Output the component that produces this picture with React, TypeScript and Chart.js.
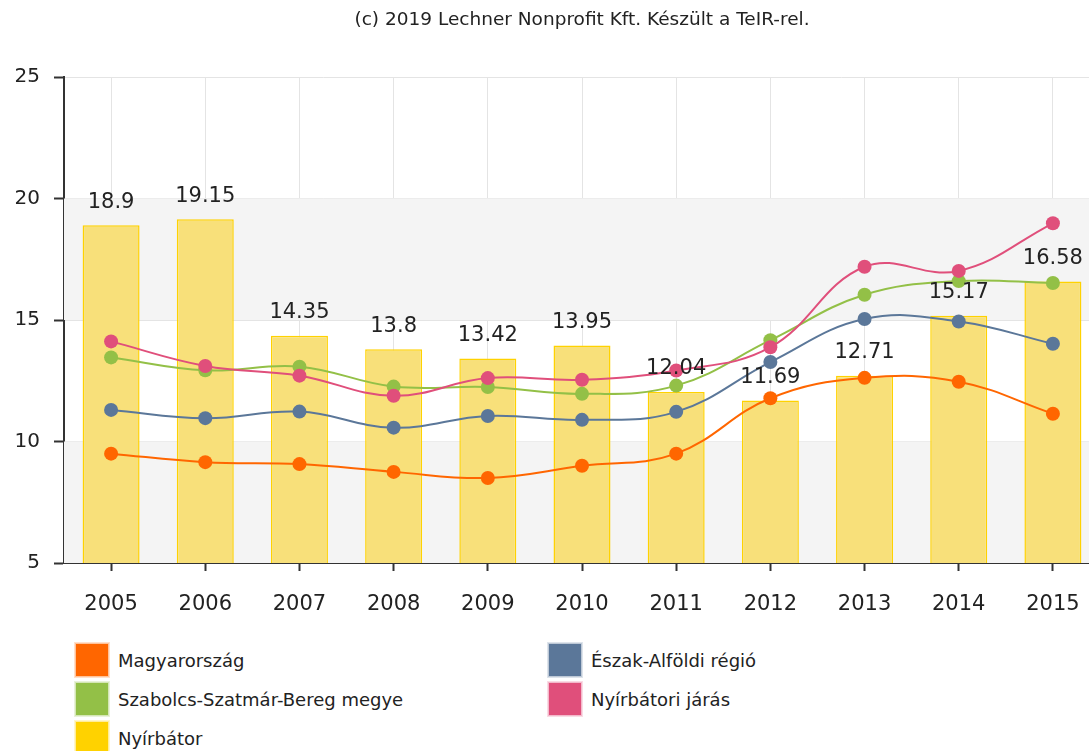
import React, { useEffect, useRef } from "react";
import { Chart, registerables } from "chart.js";

Chart.register(...registerables);

const years = ["2005", "2006", "2007", "2008", "2009", "2010", "2011", "2012", "2013", "2014", "2015"];
const magyarorszag = [9.5, 9.15, 9.07, 8.75, 8.5, 9.0, 9.5, 11.78, 12.62, 12.46, 11.14];
const eszakAlfoldi = [11.3, 10.96, 11.23, 10.57, 11.05, 10.89, 11.22, 13.27, 15.04, 14.94, 14.02];
const szabolcs = [13.46, 12.93, 13.08, 12.26, 12.24, 11.96, 12.3, 14.17, 16.04, 16.6, 16.52];
const nyirbatoriJaras = [14.12, 13.11, 12.71, 11.88, 12.61, 12.54, 12.92, 13.88, 17.19, 17.02, 18.98];
const nyirbator = [18.9, 19.15, 14.35, 13.8, 13.42, 13.95, 12.04, 11.69, 12.71, 15.17, 16.58];
const yTicks = [5, 10, 15, 20, 25];

const titleText = "(c) 2019 Lechner Nonprofit Kft. Készült a TeIR-rel.";

const C_ORANGE = "#ff6600";
const C_BLUE = "#5b7799";
const C_GREEN = "#93c047";
const C_PINK = "#e04f7b";
const C_YELLOW = "#ffd200";

const legendItems = [
  { label: "Magyarország", color: C_ORANGE, x: 75, y: 643 },
  { label: "Észak-Alföldi régió", color: C_BLUE, x: 548, y: 643 },
  { label: "Szabolcs-Szatmár-Bereg megye", color: C_GREEN, x: 75, y: 682 },
  { label: "Nyírbátori járás", color: C_PINK, x: 548, y: 682 },
  { label: "Nyírbátor", color: C_YELLOW, x: 75, y: 721 },
];

const FONT = "'DejaVu Sans', Verdana, sans-serif";

const bandsPlugin = {
  id: "bands",
  beforeDatasetsDraw(chart: any) {
    const { ctx, chartArea, scales } = chart;
    const y = scales.y;
    ctx.save();
    for (let i = 0; i < yTicks.length - 1; i++) {
      if (i % 2 === 0) {
        const top = y.getPixelForValue(yTicks[i + 1]);
        const bot = y.getPixelForValue(yTicks[i]);
        ctx.fillStyle = "#f4f4f4";
        ctx.fillRect(chartArea.left, top, chartArea.right - chartArea.left, bot - top);
      }
    }
    ctx.restore();
  },
};

const labelsPlugin = {
  id: "barLabels",
  afterDatasetsDraw(chart: any) {
    const { ctx } = chart;
    const meta = chart.getDatasetMeta(4);
    ctx.save();
    ctx.font = `21px ${FONT}`;
    ctx.fillStyle = "#222";
    ctx.textAlign = "center";
    ctx.textBaseline = "middle";
    meta.data.forEach((bar: any, i: number) => {
      ctx.fillText(String(nyirbator[i]), bar.x, bar.y - 23);
    });
    ctx.restore();
  },
};

const titlePlugin = {
  id: "topTitle",
  afterDraw(chart: any) {
    const { ctx, chartArea } = chart;
    ctx.save();
    ctx.font = `18.5px ${FONT}`;
    ctx.fillStyle = "#222";
    ctx.textAlign = "center";
    ctx.textBaseline = "middle";
    ctx.fillText(titleText, (chartArea.left + chartArea.right) / 2, 20);
    ctx.restore();
  },
};

export default function App() {
  const ref = useRef<HTMLCanvasElement | null>(null);

  useEffect(() => {
    if (!ref.current) return;
    const lineDs = (label: string, data: number[], color: string, order: number) => ({
      type: "line" as const,
      label,
      data,
      borderColor: color,
      backgroundColor: color,
      pointBackgroundColor: color,
      pointBorderColor: color,
      borderWidth: 2,
      pointRadius: 7,
      pointBorderWidth: 0,
      tension: 0.4,
      fill: false,
      order,
    });
    const chart = new Chart(ref.current, {
      type: "bar",
      data: {
        labels: years,
        datasets: [
          lineDs("Magyarország", magyarorszag, C_ORANGE, 4),
          lineDs("Észak-Alföldi régió", eszakAlfoldi, C_BLUE, 3),
          lineDs("Szabolcs-Szatmár-Bereg megye", szabolcs, C_GREEN, 2),
          lineDs("Nyírbátori járás", nyirbatoriJaras, C_PINK, 1),
          {
            type: "bar" as const,
            label: "Nyírbátor",
            data: nyirbator,
            backgroundColor: "#f8e07a",
            borderColor: C_YELLOW,
            borderWidth: 1.5,
            categoryPercentage: 1,
            barPercentage: 0.605,
            order: 10,
          },
        ] as any,
      },
      options: {
        responsive: false,
        animation: false,
        layout: { padding: { top: 77, right: 10, left: 0, bottom: 0 } },
        plugins: {
          legend: { display: false },
          tooltip: { enabled: false },
          title: { display: false },
        },
        scales: {
          x: {
            offset: true,
            grid: {
              offset: false,
              color: "#e4e4e4",
              lineWidth: 1,
              tickLength: 8,
              tickColor: "#333",
              tickWidth: 2,
            },
            border: { color: "#333", width: 2 },
            ticks: { color: "#222", font: { size: 21, family: FONT }, padding: 21 },
            afterFit: (s: any) => {
              s.height = 70;
            },
          },
          y: {
            min: 5,
            max: 25,
            ticks: {
              stepSize: 5,
              color: "#222",
              font: { size: 20, family: FONT },
              padding: 14,
            },
            grid: {
              color: "#e4e4e4",
              lineWidth: 1,
              tickLength: 10,
              tickColor: "#333",
              tickWidth: 2,
            },
            border: { color: "#333", width: 2 },
            afterFit: (s: any) => {
              s.width = 64;
            },
          },
        },
      },
      plugins: [bandsPlugin, labelsPlugin, titlePlugin],
    });
    return () => chart.destroy();
  }, []);

  return (
    <div
      style={{
        position: "absolute",
        left: 0,
        top: 0,
        width: 1089,
        height: 751,
        overflow: "hidden",
        background: "#fff",
      }}
    >
      <canvas ref={ref} width={1110} height={633} style={{ position: "absolute", left: 0, top: 0 }} />
      {legendItems.map((it) => (
        <div
          key={it.label}
          style={{ position: "absolute", left: it.x, top: it.y, height: 34, display: "flex", alignItems: "center" }}
        >
          <div
            style={{
              width: 32,
              height: 32,
              background: it.color,
              border: "1px solid rgba(255,255,255,0.6)",
              boxShadow: `0 0 0 1px ${it.color}33`,
            }}
          />
          <span
            style={{
              marginLeft: 9,
              fontFamily: FONT,
              fontSize: 18,
              color: "#222",
              whiteSpace: "nowrap",
            }}
          >
            {it.label}
          </span>
        </div>
      ))}
    </div>
  );
}
